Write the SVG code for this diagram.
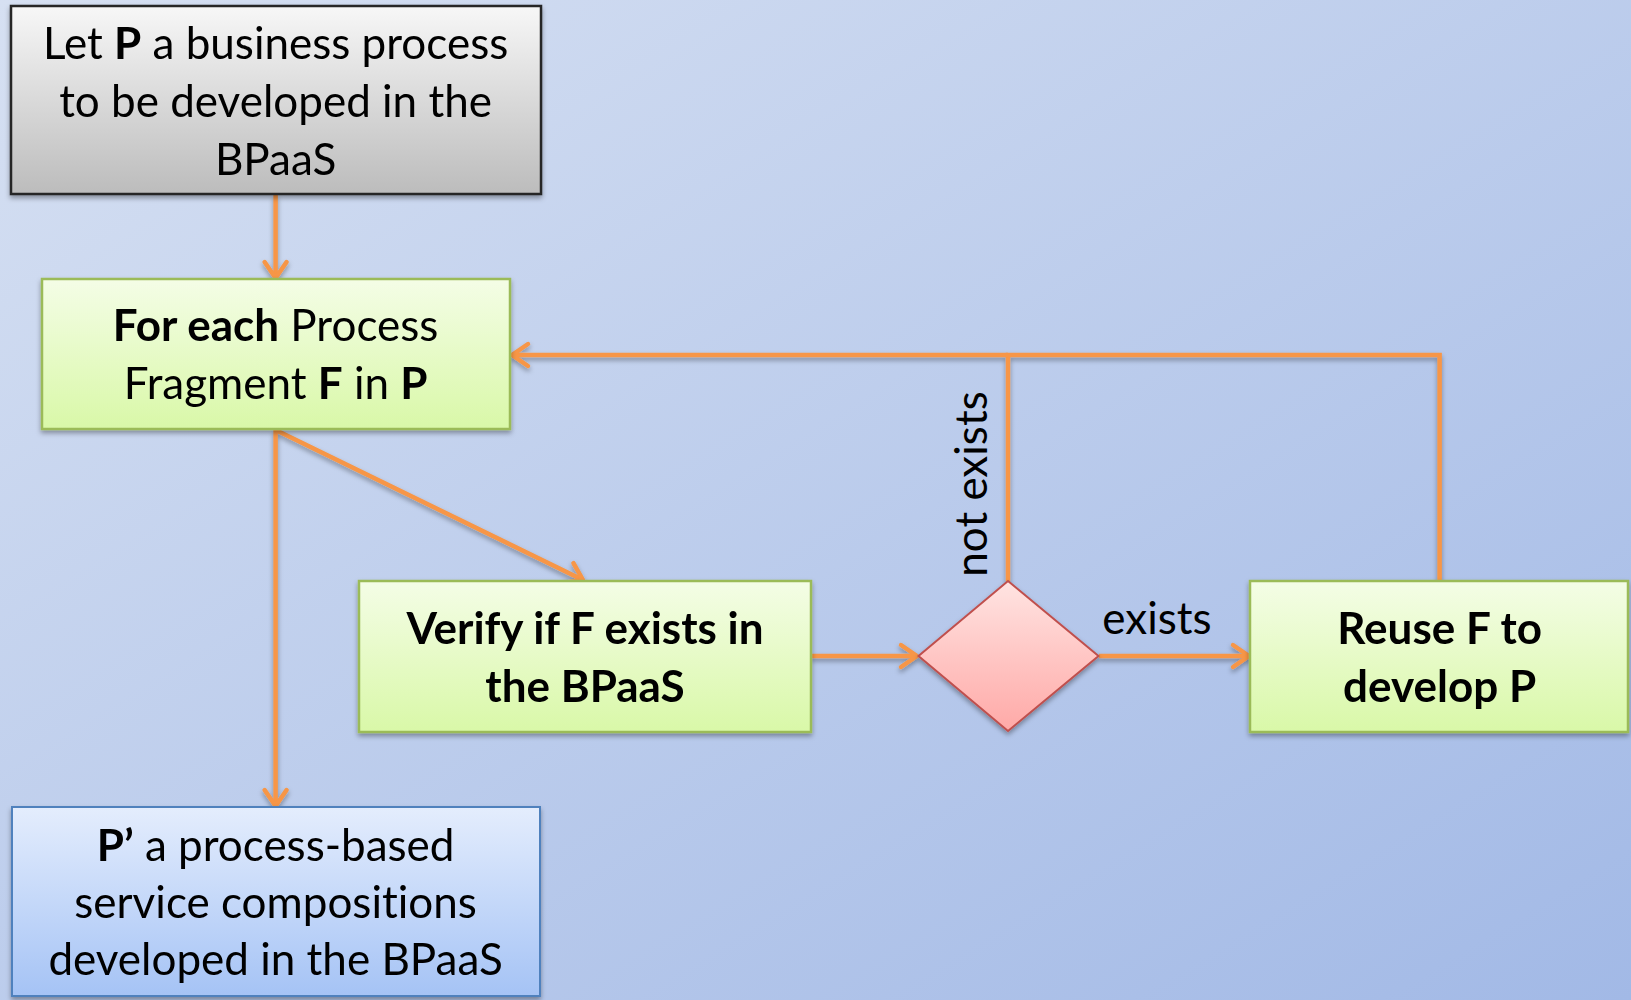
<svg xmlns="http://www.w3.org/2000/svg" width="1631" height="1000" viewBox="0 0 1631 1000">
<defs>
<linearGradient id="bg" x1="0" y1="0" x2="1" y2="1">
<stop offset="0" stop-color="#d6e0f2"/>
<stop offset="1" stop-color="#a2b9e6"/>
</linearGradient>
<linearGradient id="gGray" x1="0" y1="0" x2="0" y2="1">
<stop offset="0" stop-color="#f7f7f7"/>
<stop offset="1" stop-color="#bcbcbc"/>
</linearGradient>
<linearGradient id="gGreen" x1="0" y1="0" x2="0" y2="1">
<stop offset="0" stop-color="#f4fde6"/>
<stop offset="1" stop-color="#d9f8a8"/>
</linearGradient>
<linearGradient id="gBlue" x1="0" y1="0" x2="0" y2="1">
<stop offset="0" stop-color="#e4edfd"/>
<stop offset="1" stop-color="#a5c3f5"/>
</linearGradient>
<linearGradient id="gRed" x1="0" y1="0" x2="0" y2="1">
<stop offset="0" stop-color="#ffe4e2"/>
<stop offset="1" stop-color="#ffa9a7"/>
</linearGradient>
<filter id="sh" x="-10%" y="-10%" width="120%" height="130%">
<feDropShadow dx="0" dy="3" stdDeviation="2.5" flood-color="#000" flood-opacity="0.35"/>
</filter>
<marker id="arr" markerWidth="30" markerHeight="30" refX="25" refY="15" orient="auto" markerUnits="userSpaceOnUse" viewBox="0 0 30 30">
<path d="M9,4 L25,15 L9,26" fill="none" stroke="#f79646" stroke-width="4.5" stroke-linecap="round" stroke-linejoin="round"/>
</marker>
</defs>
<style>
.t{font-family:"Lato","Liberation Sans",sans-serif;font-size:44px;fill:#000;text-anchor:middle;font-variant-ligatures:none}
.b{font-weight:bold}
.c{fill:none;stroke:#f79646;stroke-width:4.5}
.ca{fill:none;stroke:#f79646;stroke-width:4.5;marker-end:url(#arr)}
</style>
<rect width="1631" height="1000" fill="url(#bg)"/>

<g id="connectors" filter="url(#sh)">
<line class="ca" x1="275.6" y1="195" x2="275.6" y2="278"/>
<line class="ca" x1="275.6" y1="430" x2="275.6" y2="806"/>
<line class="ca" x1="275.6" y1="430" x2="583" y2="580"/>
<line class="ca" x1="811" y1="656" x2="917" y2="656"/>
<line class="ca" x1="1099" y1="656" x2="1249" y2="656"/>
<polyline class="c" points="1008,581 1008,355 1439.6,355 1439.6,581"/>
<line class="ca" x1="1008" y1="355" x2="512" y2="355"/>
</g>

<g id="n1" filter="url(#sh)">
<rect x="11" y="6" width="530" height="188" fill="url(#gGray)" stroke="#262626" stroke-width="2.5"/>
<text class="t" x="275.6" y="59">Let <tspan class="b">P</tspan> a business process</text>
<text class="t" x="275.6" y="117">to be developed in the</text>
<text class="t" x="275.6" y="175">BPaaS</text>
</g>

<g id="n2" filter="url(#sh)">
<rect x="42" y="279" width="468" height="150" fill="url(#gGreen)" stroke="#9bbb59" stroke-width="2.5"/>
<text class="t" x="275.6" y="341"><tspan class="b">For each</tspan> Process</text>
<text class="t" x="275.6" y="399">Fragment <tspan class="b">F</tspan> in <tspan class="b">P</tspan></text>
</g>

<g id="n3" filter="url(#sh)">
<rect x="359" y="581" width="452" height="151" fill="url(#gGreen)" stroke="#9bbb59" stroke-width="2.5"/>
<text class="t b" x="585" y="644">Verify if F exists in</text>
<text class="t b" x="585" y="702">the BPaaS</text>
</g>

<g id="n4" filter="url(#sh)">
<polygon points="1008,581 1098.5,656 1008,731 918.5,656" fill="url(#gRed)" stroke="#c0504d" stroke-width="2"/>
</g>

<g id="n5" filter="url(#sh)">
<rect x="1250" y="581" width="378" height="151" fill="url(#gGreen)" stroke="#9bbb59" stroke-width="2.5"/>
<text class="t b" x="1439.6" y="644">Reuse F to</text>
<text class="t b" x="1439.6" y="702">develop P</text>
</g>

<g id="n6" filter="url(#sh)">
<rect x="12" y="807" width="528" height="189" fill="url(#gBlue)" stroke="#4f81bd" stroke-width="2"/>
<text class="t" x="275.6" y="861"><tspan class="b">P’</tspan> a process-based</text>
<text class="t" x="275.6" y="918">service compositions</text>
<text class="t" x="275.6" y="975">developed in the BPaaS</text>
</g>

<g id="labels">
<text class="t" x="1157" y="634">exists</text>
<text class="t" transform="translate(987,484) rotate(-90)" x="0" y="0">not exists</text>
</g>
</svg>
